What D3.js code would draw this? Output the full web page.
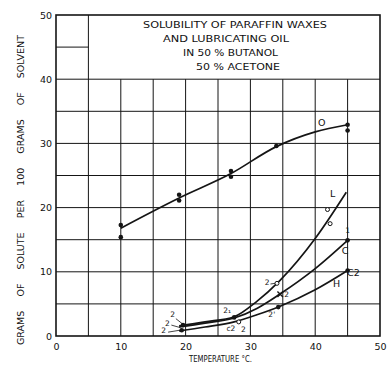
<!DOCTYPE html>
<html>
<head>
<meta charset="utf-8">
<script src="https://cdn.jsdelivr.net/npm/d3@7"></script>
<style>
  body { margin: 0; background: #fff; }
  text { font-family: "DejaVu Sans", sans-serif; fill: #111; }
</style>
</head>
<body>
<div id="chart"></div>
<script>
var size = { width: 388, height: 366 };
var ink = "#151515";

// tick labels
var xTicks = [0, 10, 20, 30, 40, 50];
var yTicks = [0, 10, 20, 30, 40, 50];
var gridSteps = [5, 10, 15, 20, 25, 30, 35, 40, 45];

var titleLines = ["SOLUBILITY OF PARAFFIN WAXES", "AND LUBRICATING OIL", "IN 50 % BUTANOL", "50 % ACETONE"];
var yTitleWords = ["GRAMS", "OF", "SOLUTE", "PER", "100", "GRAMS", "OF", "SOLVENT"];

// curve O (paraffin wax)
var oLine = [[10, 16.8], [19, 21.5], [27, 25.3], [34, 29.5], [40, 31.8], [45, 32.9]];
var oPoints = [[10, 17.3], [10, 15.4], [19, 22.0], [19, 21.1], [27, 25.7], [27, 24.8], [34, 29.6], [45, 32.9], [45, 32.0]];

// curves L, C, H
var lLine = [[19, 1.6], [23, 2.2], [27.5, 3.0], [31, 5.4], [34.5, 8.6], [40, 15.2], [44.8, 22.4]];
var cLine = [[19, 1.4], [23, 2.0], [27.5, 2.8], [31, 4.3], [34.5, 6.5], [40, 10.5], [45, 14.9]];
var hLine = [[19, 0.8], [23, 1.4], [27.5, 2.2], [31, 3.3], [34.5, 4.6], [40, 7.2], [45, 10.2]];

var dotPoints = [[19.6, 1.7], [19.4, 0.9], [27.5, 2.9], [34.3, 4.5], [45, 10.2], [45, 14.9]];
var circlePoints = [[34.1, 8.2], [28.2, 2.2], [41.9, 19.7], [42.3, 17.5]];
var crossPoints = [[34.6, 6.5]];

// annotations: [text, x, y]
var labels = [
  ["O", 41.0, 32.7], ["L", 42.7, 21.6], ["C", 44.6, 12.7], ["1", 45.0, 16.0],
  ["H", 43.3, 7.6], ["C2", 45.9, 9.4], ["2", 32.6, 7.9], ["2", 35.6, 6.0],
  ["2'", 33.3, 2.9], ["2\u2081", 26.4, 3.6], ["c2", 27.0, 0.8], ["2", 28.9, 0.6],
  ["2", 18.0, 3.0], ["2", 17.2, 1.6], ["2", 16.6, 0.4]
];
// leader lines for the small "2" tags
var leaders = [[[18.5, 2.7], [19.5, 1.9]], [[17.8, 1.7], [19.2, 1.3]], [[17.3, 0.6], [19.1, 0.9]], [[33.1, 8.1], [33.8, 8.2]]];

var x = d3.scaleLinear().domain([0, 50]).range([56, 380]);
var y = d3.scaleLinear().domain([0, 50]).range([336, 15]);

var svg = d3.select("#chart").append("svg")
    .attr("width", size.width)
    .attr("height", size.height);

// grid (top-left title box area left open)
var grid = svg.append("g").attr("stroke", ink).attr("stroke-width", 1);
gridSteps.forEach(v => {
    var yEnd = v === 5 ? 50 : 40;
    grid.append("line")
        .attr("x1", x(v)).attr("x2", x(v))
        .attr("y1", y(0)).attr("y2", y(yEnd));
    var xEnd = v === 45 ? 5 : 50;
    grid.append("line")
        .attr("x1", x(0)).attr("x2", x(xEnd))
        .attr("y1", y(v)).attr("y2", y(v));
});

// frame
svg.append("rect")
    .attr("x", x(0)).attr("y", y(50))
    .attr("width", x(50) - x(0)).attr("height", y(0) - y(50))
    .attr("fill", "none").attr("stroke", ink).attr("stroke-width", 1.6);

// axes
var xAxis = svg.append("g")
    .attr("transform", "translate(0," + y(0) + ")")
    .call(d3.axisBottom(x).tickValues(xTicks).tickSize(0).tickPadding(7));
var yAxis = svg.append("g")
    .attr("transform", "translate(" + x(0) + ",0)")
    .call(d3.axisLeft(y).tickValues(yTicks).tickSize(0).tickPadding(4));
[xAxis, yAxis].forEach(a => {
    a.select(".domain").remove();
    a.selectAll("text").attr("font-size", 9.5).attr("font-family", "DejaVu Sans").attr("fill", ink);
});

// title
var titleX = [143, 163, 183, 196];
var titleW = [184, 126, 95, 84];
titleLines.forEach((t, i) => {
    svg.append("text")
        .attr("x", titleX[i])
        .attr("y", 28 + i * 14)
        .attr("font-size", 8.5)
        .attr("textLength", titleW[i])
        .attr("lengthAdjust", "spacingAndGlyphs")
        .text(t);
});

// axis titles
svg.append("text")
    .attr("x", 189).attr("y", 362)
    .attr("font-size", 9)
    .attr("textLength", 63)
    .attr("lengthAdjust", "spacingAndGlyphs")
    .text("TEMPERATURE \u00B0C.");

// vertical title, word by word with even gaps (draftsman spacing)
var yTitle = svg.append("g").attr("transform", "translate(24,0)");
var words = yTitleWords.map(w => {
    var t = yTitle.append("text")
        .attr("font-size", 9.5)
        .attr("transform", "rotate(-90)")
        .text(w);
    return { node: t, len: t.node().getComputedTextLength() };
});
var labelBottom = 345, labelTop = 35;
var total = d3.sum(words, d => d.len);
var gap = (labelBottom - labelTop - total) / (words.length - 1);
var pos = labelBottom;
words.forEach(d => {
    d.node.attr("transform", "translate(0," + pos + ") rotate(-90)");
    pos -= d.len + gap;
});

// curves
var line = d3.line()
    .x(d => x(d[0]))
    .y(d => y(d[1]))
    .curve(d3.curveMonotoneX);

[oLine, lLine, cLine, hLine].forEach(data => {
    svg.append("path")
        .datum(data)
        .attr("d", line)
        .attr("fill", "none")
        .attr("stroke", ink)
        .attr("stroke-width", 1.7);
});

// markers
svg.append("g").selectAll("circle")
    .data(oPoints.concat(dotPoints))
    .enter().append("circle")
    .attr("cx", d => x(d[0]))
    .attr("cy", d => y(d[1]))
    .attr("r", 2.3)
    .attr("fill", ink);

svg.append("g").selectAll("circle")
    .data(circlePoints)
    .enter().append("circle")
    .attr("cx", d => x(d[0]))
    .attr("cy", d => y(d[1]))
    .attr("r", 2)
    .attr("fill", "#fff")
    .attr("stroke", ink)
    .attr("stroke-width", 1);

svg.append("g").selectAll("path")
    .data(crossPoints)
    .enter().append("path")
    .attr("d", d3.symbol().type(d3.symbolX).size(22))
    .attr("transform", d => "translate(" + x(d[0]) + "," + y(d[1]) + ")")
    .attr("stroke", ink)
    .attr("stroke-width", 1.4);

svg.append("g").selectAll("line")
    .data(leaders)
    .enter().append("line")
    .attr("x1", d => x(d[0][0])).attr("y1", d => y(d[0][1]))
    .attr("x2", d => x(d[1][0])).attr("y2", d => y(d[1][1]))
    .attr("stroke", ink).attr("stroke-width", 0.8);

svg.append("g").selectAll("text")
    .data(labels)
    .enter().append("text")
    .attr("x", d => x(d[1]))
    .attr("y", d => y(d[2]))
    .attr("text-anchor", "middle")
    .attr("font-size", d => d[0] === "O" || d[0] === "L" || d[0] === "C" || d[0] === "H" || d[0] === "C2" ? 9.5 : 7.5)
    .text(d => d[0]);
</script>
</body>
</html>
